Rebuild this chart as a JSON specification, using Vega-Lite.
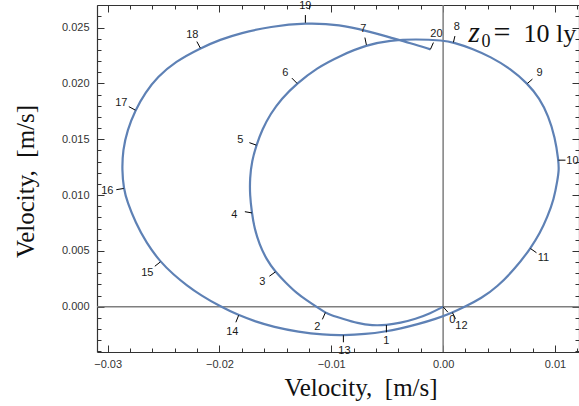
{
  "$schema": "https://vega.github.io/schema/vega-lite/v6.json",
  "width": 482,
  "height": 347,
  "autosize": "none",
  "padding": {"left": 97, "top": 5, "right": 0, "bottom": 54},
  "background": "white",
  "config": {
    "view": {"stroke": null},
    "axis": {
      "grid": false,
      "domainColor": "#333333",
      "domainWidth": 1.2,
      "tickColor": "#333333",
      "tickWidth": 1,
      "labelFont": "Liberation Sans",
      "labelFontSize": 11,
      "labelColor": "#333333",
      "labelOverlap": false,
      "labelFlush": false,
      "titleFont": "Liberation Serif",
      "titleFontWeight": "normal",
      "titleFontSize": 25,
      "titleColor": "#111111"
    }
  },
  "datasets": {
    "curve": [
      {"s": 1, "vx": 0.0, "vy": 0.0},
      {"s": 2, "vx": -0.001136, "vy": -0.000582},
      {"s": 3, "vx": -0.002478, "vy": -0.001102},
      {"s": 4, "vx": -0.003819, "vy": -0.001443},
      {"s": 5, "vx": -0.005072, "vy": -0.00164},
      {"s": 6, "vx": -0.006324, "vy": -0.001685},
      {"s": 7, "vx": -0.007665, "vy": -0.001478},
      {"s": 8, "vx": -0.008918, "vy": -0.001093},
      {"s": 9, "vx": -0.010081, "vy": -0.000726},
      {"s": 10, "vx": -0.010528, "vy": -0.00052},
      {"s": 11, "vx": -0.011243, "vy": -0.000063},
      {"s": 12, "vx": -0.012138, "vy": 0.000538},
      {"s": 13, "vx": -0.013059, "vy": 0.001183},
      {"s": 14, "vx": -0.014106, "vy": 0.002195},
      {"s": 15, "vx": -0.015, "vy": 0.003118},
      {"s": 16, "vx": -0.015805, "vy": 0.004256},
      {"s": 17, "vx": -0.016431, "vy": 0.0056},
      {"s": 18, "vx": -0.016878, "vy": 0.007034},
      {"s": 19, "vx": -0.017102, "vy": 0.008405},
      {"s": 20, "vx": -0.017281, "vy": 0.009991},
      {"s": 21, "vx": -0.017281, "vy": 0.011514},
      {"s": 22, "vx": -0.017102, "vy": 0.013038},
      {"s": 23, "vx": -0.016699, "vy": 0.014471},
      {"s": 24, "vx": -0.016163, "vy": 0.015905},
      {"s": 25, "vx": -0.015447, "vy": 0.017249},
      {"s": 26, "vx": -0.014463, "vy": 0.018638},
      {"s": 27, "vx": -0.013059, "vy": 0.02},
      {"s": 28, "vx": -0.011333, "vy": 0.021371},
      {"s": 29, "vx": -0.009186, "vy": 0.022491},
      {"s": 30, "vx": -0.00686, "vy": 0.02345},
      {"s": 31, "vx": -0.004714, "vy": 0.023853},
      {"s": 32, "vx": -0.002478, "vy": 0.02397},
      {"s": 33, "vx": 0.000027, "vy": 0.023853},
      {"s": 34, "vx": 0.000921, "vy": 0.023674},
      {"s": 35, "vx": 0.002621, "vy": 0.023118},
      {"s": 36, "vx": 0.004231, "vy": 0.022384},
      {"s": 37, "vx": 0.00602, "vy": 0.021326},
      {"s": 38, "vx": 0.00754, "vy": 0.02},
      {"s": 39, "vx": 0.008614, "vy": 0.018683},
      {"s": 40, "vx": 0.009419, "vy": 0.01707},
      {"s": 41, "vx": 0.01, "vy": 0.015188},
      {"s": 42, "vx": 0.010313, "vy": 0.013127},
      {"s": 42.5, "vx": 0.010358, "vy": 0.012231},
      {"s": 43, "vx": 0.010224, "vy": 0.011335},
      {"s": 44, "vx": 0.009911, "vy": 0.009633},
      {"s": 45, "vx": 0.009329, "vy": 0.008047},
      {"s": 46, "vx": 0.008658, "vy": 0.006586},
      {"s": 47, "vx": 0.007809, "vy": 0.005215},
      {"s": 48, "vx": 0.006467, "vy": 0.00345},
      {"s": 49, "vx": 0.00483, "vy": 0.001774},
      {"s": 50, "vx": 0.003426, "vy": 0.000762},
      {"s": 51, "vx": 0.00195, "vy": 0.0},
      {"s": 52, "vx": 0.000832, "vy": -0.00052},
      {"s": 53, "vx": -0.000689, "vy": -0.001102},
      {"s": 54, "vx": -0.002299, "vy": -0.001568},
      {"s": 55, "vx": -0.003819, "vy": -0.001953},
      {"s": 56, "vx": -0.005161, "vy": -0.002222},
      {"s": 57, "vx": -0.00695, "vy": -0.002455},
      {"s": 58, "vx": -0.008918, "vy": -0.002554},
      {"s": 59, "vx": -0.010707, "vy": -0.002518},
      {"s": 60, "vx": -0.012943, "vy": -0.002249},
      {"s": 61, "vx": -0.015179, "vy": -0.001801},
      {"s": 62, "vx": -0.016789, "vy": -0.001317},
      {"s": 63, "vx": -0.018283, "vy": -0.000762},
      {"s": 64, "vx": -0.019919, "vy": 0.000018},
      {"s": 65, "vx": -0.021708, "vy": 0.001057},
      {"s": 66, "vx": -0.022898, "vy": 0.001891},
      {"s": 67, "vx": -0.024123, "vy": 0.002894},
      {"s": 68, "vx": -0.025286, "vy": 0.004014},
      {"s": 69, "vx": -0.026538, "vy": 0.005708},
      {"s": 70, "vx": -0.027522, "vy": 0.007581},
      {"s": 71, "vx": -0.028238, "vy": 0.009373},
      {"s": 72, "vx": -0.028569, "vy": 0.010591},
      {"s": 73, "vx": -0.028712, "vy": 0.012231},
      {"s": 74, "vx": -0.02864, "vy": 0.014023},
      {"s": 75, "vx": -0.028238, "vy": 0.015815},
      {"s": 76, "vx": -0.027522, "vy": 0.017608},
      {"s": 77, "vx": -0.026628, "vy": 0.019176},
      {"s": 78, "vx": -0.025555, "vy": 0.020565},
      {"s": 79, "vx": -0.023945, "vy": 0.021953},
      {"s": 80, "vx": -0.021708, "vy": 0.023163},
      {"s": 81, "vx": -0.019919, "vy": 0.023925},
      {"s": 82, "vx": -0.018131, "vy": 0.024507},
      {"s": 83, "vx": -0.015447, "vy": 0.02509},
      {"s": 84, "vx": -0.012317, "vy": 0.02543},
      {"s": 85, "vx": -0.009186, "vy": 0.025269},
      {"s": 86, "vx": -0.006771, "vy": 0.024686},
      {"s": 87, "vx": -0.004714, "vy": 0.024104},
      {"s": 88, "vx": -0.002925, "vy": 0.023611},
      {"s": 89, "vx": -0.001136, "vy": 0.023047}
    ],
    "stations": [
      {"t": "0", "x": 0.0, "y": 0.0, "x2": 0.000429, "y2": -0.000493, "lx": 0.000832, "ly": -0.00121},
      {"t": "1", "x": -0.005072, "y": -0.00164, "x2": -0.005072, "y2": -0.002285, "lx": -0.005072, "ly": -0.003091},
      {"t": "2", "x": -0.010528, "y": -0.00052, "x2": -0.010796, "y2": -0.00113, "lx": -0.011243, "ly": -0.001837},
      {"t": "3", "x": -0.015, "y": 0.003118, "x2": -0.015537, "y2": 0.002733, "lx": -0.016163, "ly": 0.002195},
      {"t": "4", "x": -0.017102, "y": 0.008405, "x2": -0.017728, "y2": 0.008513, "lx": -0.018667, "ly": 0.008199},
      {"t": "5", "x": -0.016699, "y": 0.014471, "x2": -0.017326, "y2": 0.014695, "lx": -0.018131, "ly": 0.014919},
      {"t": "6", "x": -0.013059, "y": 0.02, "x2": -0.013524, "y2": 0.020475, "lx": -0.014106, "ly": 0.020923},
      {"t": "7", "x": -0.00686, "y": 0.02345, "x2": -0.006995, "y2": 0.024104, "lx": -0.007129, "ly": 0.024866},
      {"t": "8", "x": 0.000921, "y": 0.023674, "x2": 0.001055, "y2": 0.024238, "lx": 0.001234, "ly": 0.025045},
      {"t": "9", "x": 0.00754, "y": 0.02, "x2": 0.007987, "y2": 0.020385, "lx": 0.008613, "ly": 0.020923},
      {"t": "10", "x": 0.010313, "y": 0.013127, "x2": 0.010939, "y2": 0.013127, "lx": 0.011565, "ly": 0.013038},
      {"t": "11", "x": 0.007809, "y": 0.005215, "x2": 0.008345, "y2": 0.004839, "lx": 0.008971, "ly": 0.004346},
      {"t": "12", "x": 0.000832, "y": -0.00052, "x2": 0.0011, "y2": -0.001075, "lx": 0.001637, "ly": -0.001747},
      {"t": "13", "x": -0.008918, "y": -0.002554, "x2": -0.008918, "y2": -0.003181, "lx": -0.008828, "ly": -0.003987},
      {"t": "14", "x": -0.018283, "y": -0.000762, "x2": -0.018533, "y2": -0.001389, "lx": -0.018846, "ly": -0.002285},
      {"t": "15", "x": -0.025286, "y": 0.004014, "x2": -0.025778, "y2": 0.003629, "lx": -0.026449, "ly": 0.003002},
      {"t": "16", "x": -0.028569, "y": 0.010591, "x2": -0.029222, "y2": 0.010484, "lx": -0.030027, "ly": 0.010349},
      {"t": "17", "x": -0.027522, "y": 0.017608, "x2": -0.028104, "y2": 0.017921, "lx": -0.028775, "ly": 0.018235},
      {"t": "18", "x": -0.021708, "y": 0.023163, "x2": -0.022021, "y2": 0.023746, "lx": -0.022424, "ly": 0.024328},
      {"t": "19", "x": -0.012317, "y": 0.02543, "x2": -0.012317, "y2": 0.02612, "lx": -0.012317, "ly": 0.026927},
      {"t": "20", "x": -0.001136, "y": 0.023047, "x2": -0.000868, "y2": 0.023656, "lx": -0.000599, "ly": 0.024418}
    ]
  },
  "resolve": {"axis": {"x": "independent", "y": "independent"}},
  "layer": [
    {
      "data": {"values": [{}]},
      "mark": {"type": "rule", "color": "#7f7f7f", "strokeWidth": 1.5},
      "encoding": {"x": {"datum": 0, "type": "quantitative", "axis": null}}
    },
    {
      "data": {"values": [{}]},
      "mark": {"type": "rule", "color": "#7f7f7f", "strokeWidth": 1.5},
      "encoding": {"y": {"datum": 0, "type": "quantitative", "axis": null}}
    },
    {
      "data": {"name": "curve"},
      "mark": {"type": "line", "color": "#5E81B5", "strokeWidth": 2.2, "interpolate": "basis"},
      "encoding": {
        "order": {"field": "s", "type": "quantitative"},
        "x": {
          "field": "vx",
          "type": "quantitative",
          "scale": {"domain": [-0.03095, 0.01215], "nice": false, "zero": false},
          "axis": {
            "orient": "bottom",
            "values": [-0.03, -0.028, -0.026, -0.024, -0.022, -0.02, -0.018, -0.016, -0.014, -0.012, -0.01, -0.008, -0.006, -0.004, -0.002, 0, 0.002, 0.004, 0.006, 0.008, 0.01, 0.012],
            "format": ".2f",
            "labelExpr": "round(datum.value * 1000) % 10 === 0 ? datum.label : ''",
            "tickSize": {"condition": {"test": "round(datum.value * 1000) % 10 === 0", "value": -7}, "value": -4},
            "labelPadding": 13,
            "title": "Velocity,\u2002[m/s]",
            "titleX": 263.5,
            "titleY": 43,
            "titleBaseline": "alphabetic"
          }
        },
        "y": {
          "field": "vy",
          "type": "quantitative",
          "scale": {"domain": [-0.00405, 0.02702], "nice": false, "zero": false},
          "axis": {
            "orient": "left",
            "values": [-0.004, -0.003, -0.002, -0.001, 0, 0.001, 0.002, 0.003, 0.004, 0.005, 0.006, 0.007, 0.008, 0.009, 0.01, 0.011, 0.012, 0.013, 0.014, 0.015, 0.016, 0.017, 0.018, 0.019, 0.02, 0.021, 0.022, 0.023, 0.024, 0.025, 0.026, 0.027],
            "format": ".3f",
            "labelExpr": "round(datum.value * 1000) % 5 === 0 ? datum.label : ''",
            "tickSize": {"condition": {"test": "round(datum.value * 1000) % 5 === 0", "value": -7}, "value": -4},
            "labelPadding": 15,
            "title": "Velocity,\u2002[m/s]",
            "titleX": -64,
            "titleY": 176,
            "titleBaseline": "alphabetic"
          }
        }
      }
    },
    {
      "data": {"name": "stations"},
      "mark": {"type": "rule", "color": "#000000", "strokeWidth": 1},
      "encoding": {
        "x": {
          "field": "x",
          "type": "quantitative",
          "axis": {
            "orient": "top",
            "values": [-0.03, -0.028, -0.026, -0.024, -0.022, -0.02, -0.018, -0.016, -0.014, -0.012, -0.01, -0.008, -0.006, -0.004, -0.002, 0, 0.002, 0.004, 0.006, 0.008, 0.01, 0.012],
            "labels": false,
            "title": null,
            "tickSize": {"condition": {"test": "round(datum.value * 1000) % 10 === 0", "value": -7}, "value": -4}
          }
        },
        "y": {
          "field": "y",
          "type": "quantitative",
          "axis": {
            "orient": "right",
            "values": [-0.004, -0.003, -0.002, -0.001, 0, 0.001, 0.002, 0.003, 0.004, 0.005, 0.006, 0.007, 0.008, 0.009, 0.01, 0.011, 0.012, 0.013, 0.014, 0.015, 0.016, 0.017, 0.018, 0.019, 0.02, 0.021, 0.022, 0.023, 0.024, 0.025, 0.026, 0.027],
            "labels": false,
            "title": null,
            "tickSize": {"condition": {"test": "round(datum.value * 1000) % 5 === 0", "value": -7}, "value": -4}
          }
        },
        "x2": {"field": "x2"},
        "y2": {"field": "y2"}
      }
    },
    {
      "data": {"name": "stations"},
      "mark": {"type": "text", "font": "Liberation Sans", "fontSize": 11, "color": "#1a1a1a", "align": "center", "baseline": "middle"},
      "encoding": {
        "x": {"field": "lx", "type": "quantitative", "axis": null},
        "y": {"field": "ly", "type": "quantitative", "axis": null},
        "text": {"field": "t"}
      }
    },
    {
      "data": {"values": [{}]},
      "mark": {"type": "text", "font": "Liberation Serif", "fontStyle": "italic", "fontSize": 29, "color": "#111111", "align": "left", "baseline": "alphabetic"},
      "encoding": {
        "x": {"datum": 0.002263, "type": "quantitative", "axis": null},
        "y": {"datum": 0.0237, "type": "quantitative", "axis": null},
        "text": {"value": "z"}
      }
    },
    {
      "data": {"values": [{}]},
      "mark": {"type": "text", "font": "Liberation Serif", "fontSize": 18, "color": "#111111", "align": "left", "baseline": "alphabetic", "dx": 13, "dy": 5},
      "encoding": {
        "x": {"datum": 0.002263, "type": "quantitative", "axis": null},
        "y": {"datum": 0.0237, "type": "quantitative", "axis": null},
        "text": {"value": "0"}
      }
    },
    {
      "data": {"values": [{}]},
      "mark": {"type": "text", "font": "Liberation Serif", "fontSize": 30, "color": "#111111", "align": "left", "baseline": "alphabetic", "dx": 25},
      "encoding": {
        "x": {"datum": 0.002263, "type": "quantitative", "axis": null},
        "y": {"datum": 0.0237, "type": "quantitative", "axis": null},
        "text": {"value": "="}
      }
    },
    {
      "data": {"values": [{}]},
      "mark": {"type": "text", "font": "Liberation Serif", "fontSize": 26, "color": "#111111", "align": "left", "baseline": "alphabetic", "dx": 55},
      "encoding": {
        "x": {"datum": 0.002263, "type": "quantitative", "axis": null},
        "y": {"datum": 0.0237, "type": "quantitative", "axis": null},
        "text": {"value": "10 ly"}
      }
    }
  ]
}
